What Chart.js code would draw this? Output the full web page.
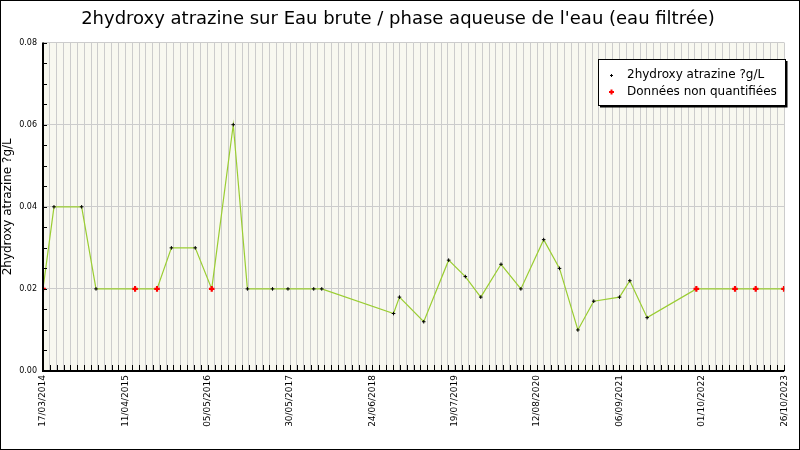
<!DOCTYPE html>
<html><head><meta charset="utf-8">
<script src="https://cdn.jsdelivr.net/npm/chart.js@4"></script>
<style>html,body{margin:0;padding:0;background:#fff}#wrap{width:798px;height:448px;border:1px solid #000}</style>
</head><body><div id="wrap"><canvas id="c"></canvas></div>
<script>
const startDate = '17/03/2014';
const tickLabels = ['17/03/2014','11/04/2015','05/05/2016','30/05/2017','24/06/2018','19/07/2019','12/08/2020','06/09/2021','01/10/2022','26/10/2023'];
// days since 17/03/2014
const days = [0,52,183,251,436,540,608,721,799,901,968,1087,1160,1282,1320,1660,1688,1803,1921,2000,2073,2169,2263,2371,2446,2533,2608,2730,2779,2861,3094,3277,3375,3509];
const values = [0.02,0.04,0.04,0.02,0.02,0.02,0.03,0.03,0.02,0.06,0.02,0.02,0.02,0.02,0.02,0.014,0.018,0.012,0.027,0.023,0.018,0.026,0.02,0.032,0.025,0.01,0.017,0.018,0.022,0.013,0.02,0.02,0.02,0.02];
const nonQuant = [1,0,0,0,1,1,0,0,1,0,0,0,0,0,0,0,0,0,0,0,0,0,0,0,0,0,0,0,0,0,1,1,1,1];
const seriesNames = ['2hydroxy atrazine ?g/L','Données non quantifiées'];

const mainData = days.map((d,i)=>({x:d,y:values[i]}));
const redData = days.map((d,i)=>({x:d,y:values[i]})).filter((p,i)=>nonQuant[i]);

const font = 'DejaVu Sans';
const ticksInside = {
  id:'ticksInside',
  afterDatasetsDraw(chart){
    const {ctx, chartArea:a, scales:{x,y}} = chart;
    ctx.save();
    ctx.strokeStyle='#000'; ctx.lineWidth=1;
    ctx.beginPath();
    x.ticks.forEach(t=>{const px=Math.round(x.getPixelForValue(t.value))+0.5; ctx.moveTo(px,a.bottom); ctx.lineTo(px,a.bottom-6);});
    y.ticks.forEach(t=>{const py=Math.round(y.getPixelForValue(t.value))+0.5; ctx.moveTo(a.left,py); ctx.lineTo(a.left+4,py);});
    ctx.stroke();
    ctx.lineWidth=2;
    ctx.beginPath();
    ctx.moveTo(a.left,a.top); ctx.lineTo(a.left,a.bottom); ctx.lineTo(a.right,a.bottom);
    ctx.stroke();
    // legend box
    const lx=597, ly=58, lw=187, lh=46;
    ctx.fillStyle='#fff'; ctx.fillRect(lx,ly,lw,lh);
    ctx.lineWidth=1; ctx.strokeStyle='#000'; ctx.strokeRect(lx+0.5,ly+0.5,lw,lh);
    ctx.lineWidth=2;
    ctx.beginPath(); ctx.moveTo(lx+lw+1.5,ly+2); ctx.lineTo(lx+lw+1.5,ly+lh+1.5); ctx.lineTo(lx+2,ly+lh+1.5); ctx.stroke();
    ctx.font='12px '+font; ctx.fillStyle='#000'; ctx.textBaseline='middle';
    ctx.lineWidth=1;
    ctx.beginPath(); ctx.moveTo(lx+12,ly+16.5); ctx.lineTo(lx+15,ly+16.5); ctx.moveTo(lx+13.5,ly+15); ctx.lineTo(lx+13.5,ly+18); ctx.stroke();
    ctx.fillText(seriesNames[0], lx+29, ly+16);
    ctx.strokeStyle='#f00'; ctx.lineWidth=2;
    ctx.beginPath(); ctx.moveTo(lx+11,ly+33); ctx.lineTo(lx+16,ly+33); ctx.moveTo(lx+13.5,ly+30.5); ctx.lineTo(lx+13.5,ly+35.5); ctx.stroke();
    ctx.fillText(seriesNames[1], lx+29, ly+33);
    ctx.restore();
  }
};
const bgPlugin = {id:'bg', beforeDraw(chart){const {ctx,chartArea:a}=chart; ctx.save(); ctx.fillStyle='#f8f8f0'; ctx.fillRect(a.left,a.top,a.right-a.left,a.bottom-a.top); ctx.restore();}};

new Chart(document.getElementById('c'),{
  type:'scatter',
  data:{datasets:[
    {label:seriesNames[0], data:mainData, showLine:true, borderColor:'#9acd32', borderWidth:1.2, pointStyle:'cross', pointRadius:1.8, pointBorderColor:'#000', pointBorderWidth:1, pointBackgroundColor:'#000', order:2},
    {label:seriesNames[1], data:redData, showLine:false, pointStyle:'cross', pointRadius:2.8, pointBorderColor:'#f00', pointBorderWidth:2.2, order:1}
  ]},
  options:{
    responsive:true, maintainAspectRatio:false, animation:false,
    layout:{padding:{left:0,right:4,top:0,bottom:0}},
    plugins:{
      legend:{display:false}, tooltip:{enabled:false},
      title:{display:true, text:"2hydroxy atrazine sur Eau brute / phase aqueuse de l'eau (eau filtrée)", color:'#000', font:{family:font,size:18,weight:'normal'}, padding:{top:8,bottom:12}}
    },
    scales:{
      x:{type:'linear', min:0, max:3510, afterBuildTicks(s){const t=[];for(let i=0;i<=108;i++)t.push({value:i*32.5});s.ticks=t;},
        afterFit(s){s.height=78;},
        grid:{color:'#cccccc', drawTicks:false, tickLength:0},
        border:{display:false},
        ticks:{autoSkip:false, maxRotation:90, minRotation:90, padding:4, color:'#000', font:{family:font,size:9},
          callback(v,i){return i%12===0?tickLabels[i/12]:'';}}
      },
      y:{min:0, max:0.08, afterFit(s){s.width=42;},
        afterBuildTicks(s){const t=[];for(let i=0;i<=16;i++)t.push({value:i*0.005});s.ticks=t;},
        title:{display:true, text:'2hydroxy atrazine ?g/L', color:'#000', font:{family:font,size:12}, padding:0},
        grid:{color(c){return (c.tick && Math.round(c.tick.value*1000)%20===0)?'#cccccc':'rgba(0,0,0,0)';}, drawTicks:false, tickLength:0},
        border:{display:false},
        ticks:{autoSkip:false, padding:6, color:'#000', font:{family:font,size:8},
          callback(v){return Math.round(v*1000)%20===0? v.toFixed(2):'';}}
      }
    }
  },
  plugins:[bgPlugin, ticksInside]
});
</script></body></html>
